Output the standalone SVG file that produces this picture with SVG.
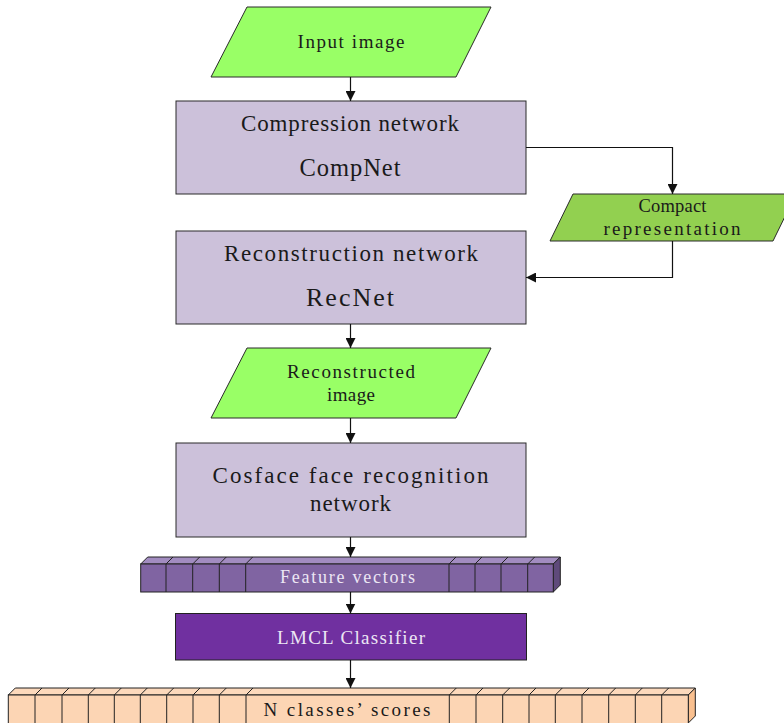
<svg xmlns="http://www.w3.org/2000/svg" width="784" height="723" viewBox="0 0 784 723">
<style>
  .t { font-family: "Liberation Serif", "DejaVu Serif", serif; fill: #1a1a1a; text-anchor: middle; }
  .big { font-size: 23px; }
  .mid { font-size: 19px; }
  .huge { font-size: 26px; }
  .lt { fill: #ECE6F4; }
  .box { fill: #CCC1DA; stroke: #2a2a2a; stroke-width: 1; }
  .io { fill: #99FF66; stroke: #2a2a2a; stroke-width: 1; }
  .io2 { fill: #92D050; stroke: #2a2a2a; stroke-width: 1; }
  .fv { fill: #8064A2; stroke: #222; stroke-width: 1; }
  .fvtop { fill: #A28CC0; stroke: #222; stroke-width: 1; }
  .fvside { fill: #5F4A7B; stroke: #222; stroke-width: 1; }
  .sc { fill: #FCD5B4; stroke: #222; stroke-width: 1; }
  .sctop { fill: #FCD9BC; stroke: #222; stroke-width: 1; }
  .scside { fill: #FAC08F; stroke: #222; stroke-width: 1; }
  .div { stroke: #222; stroke-width: 1; fill: none; }
  .conn { stroke: #111; stroke-width: 1.2; fill: none; marker-end: url(#arr); }
</style>
<defs>
  <marker id="arr" viewBox="0 0 10 10" refX="10" refY="5" markerWidth="10" markerHeight="10" markerUnits="userSpaceOnUse" orient="auto">
    <path d="M0,0 L10,5 L0,10 z" fill="#111"/>
  </marker>
</defs>
<rect width="784" height="723" fill="#ffffff"/>

<g id="input-image">
  <polygon class="io" points="247,7 491,7 456,77 211,77"/>
  <text class="t mid" x="351" y="48" textLength="107" lengthAdjust="spacing">Input image</text>
</g>

<g id="compnet">
  <rect class="box" x="176" y="101" width="350" height="93"/>
  <text class="t big" x="350" y="131" textLength="218" lengthAdjust="spacing">Compression network</text>
  <text class="t" x="350" y="176" font-size="24.5" textLength="101" lengthAdjust="spacing">CompNet</text>
</g>

<g id="compact-representation">
  <polygon class="io2" points="573,194 796,194 773,241 550,241"/>
  <text class="t" x="672.5" y="212" font-size="18.5" textLength="68" lengthAdjust="spacing">Compact</text>
  <text class="t mid" x="672" y="235" textLength="137" lengthAdjust="spacing">representation</text>
</g>

<g id="recnet">
  <rect class="box" x="176" y="231" width="350" height="93"/>
  <text class="t big" x="351" y="261" textLength="254" lengthAdjust="spacing">Reconstruction network</text>
  <text class="t huge" x="350" y="306" textLength="88" lengthAdjust="spacing">RecNet</text>
</g>

<g id="reconstructed-image">
  <polygon class="io" points="247,348 491,348 456,418 211,418"/>
  <text class="t mid" x="351" y="378" textLength="128" lengthAdjust="spacing">Reconstructed</text>
  <text class="t mid" x="351" y="401" textLength="48" lengthAdjust="spacing">image</text>
</g>

<g id="cosface">
  <rect class="box" x="176" y="443" width="350" height="94"/>
  <text class="t big" x="350.5" y="483" textLength="276" lengthAdjust="spacing">Cosface face recognition</text>
  <text class="t big" x="350.5" y="511" textLength="81" lengthAdjust="spacing">network</text>
</g>

<g id="feature-vectors">
  <polygon class="fvtop" points="140.7,564 147.7,557 560.3,557 553.3,564"/>
  <polygon class="fvside" points="553.3,564 560.3,557 560.3,585 553.3,592"/>
  <rect class="fv" x="140.7" y="564" width="412.6" height="28"/>
  <path class="div" d="M166,592V564l7,-7 M192.7,592V564l7,-7 M219.3,592V564l7,-7 M245.7,592V564l7,-7 M449,592V564l7,-7 M475,592V564l7,-7 M501,592V564l7,-7 M527.7,592V564l7,-7"/>
  <text class="t lt" x="347.5" y="583" font-size="18" textLength="135" lengthAdjust="spacing">Feature vectors</text>
</g>

<g id="lmcl-classifier">
  <rect x="175.5" y="613.5" width="351" height="46.5" fill="#7030A0" stroke="#222" stroke-width="1"/>
  <text class="t mid lt" x="351" y="644" textLength="148" lengthAdjust="spacing">LMCL Classifier</text>
</g>

<g id="class-scores">
  <polygon class="sctop" points="8.3,695 15.3,688 695.3,688 688.3,695"/>
  <polygon class="scside" points="688.3,695 695.3,688 695.3,716 688.3,723"/>
  <rect class="sc" x="8.3" y="695" width="680" height="29"/>
  <path class="div" d="M35,724V695l7,-7 M62,724V695l7,-7 M88.3,724V695l7,-7 M114.3,724V695l7,-7 M140.3,724V695l7,-7 M166.7,724V695l7,-7 M193,724V695l7,-7 M219.3,724V695l7,-7 M246,724V695l7,-7 M449.3,724V695l7,-7 M476,724V695l7,-7 M502.7,724V695l7,-7 M529,724V695l7,-7 M555.3,724V695l7,-7 M582,724V695l7,-7 M608.7,724V695l7,-7 M635.3,724V695l7,-7 M661.7,724V695l7,-7"/>
  <text class="t mid" x="347" y="716" textLength="167" lengthAdjust="spacing">N classes’ scores</text>
</g>

<g id="connectors">
  <path class="conn" d="M350.5,77 V101"/>
  <path class="conn" d="M526,147.5 H672.5 V194"/>
  <path class="conn" d="M672.5,241 V277.5 H526"/>
  <path class="conn" d="M350.5,324 V348"/>
  <path class="conn" d="M350.5,418 V443"/>
  <path class="conn" d="M350.5,537 V557"/>
  <path class="conn" d="M350.5,592 V613.5"/>
  <path class="conn" d="M350.5,660 V688"/>
</g>
</svg>
